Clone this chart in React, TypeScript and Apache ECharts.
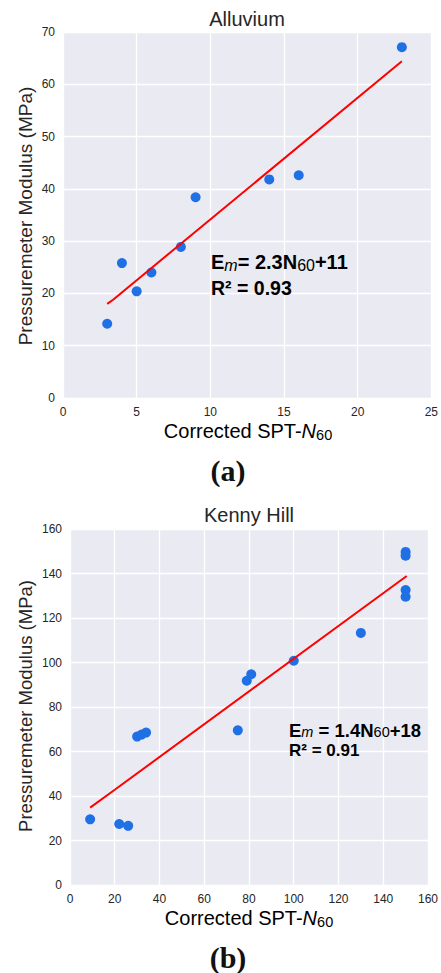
import React, { useEffect, useRef } from "react";
import * as echarts from "echarts";

// Alluvium data
const alluviumN = [3, 4, 5, 6, 8, 9, 14, 16, 23];
const alluviumEm = [14.2, 25.8, 20.4, 24.0, 28.9, 38.4, 41.8, 42.6, 67.1];
const alluviumFitN = [3, 3.4, 23];
const alluviumFitEm = [18.0, 18.8, 64.4];

// Kenny Hill data
const kennyN = [9, 22, 26, 30, 32, 34, 75, 79, 81, 100, 130, 150, 150, 150, 150];
const kennyEm = [29.5, 27.4, 26.6, 66.7, 67.6, 68.5, 69.5, 91.8, 94.7, 100.8, 113.3, 149.7, 148.0, 132.6, 129.6];
const kennyFitN = [9, 20, 150.5];
const kennyFitEm = [34.8, 42.8, 138.9];

const titles = ["Alluvium", "Kenny Hill"];
const yAxisName = "Pressuremeter Modulus (MPa)";

const BG = "#EAEAF2";
const DOT = "#1f6fe5";
const TXT = "#262626";
const FONT = "'Liberation Sans', Arial, sans-serif";

const GRIDS = [
  { left: 63, top: 32, width: 369, height: 366 },
  { left: 70, top: 529, width: 358, height: 356 },
];

const zip = (a: number[], b: number[]) => a.map((v, i) => [v, b[i]]);

export default function App() {
  const ref = useRef<HTMLDivElement>(null);
  useEffect(() => {
    const chart = echarts.init(ref.current!, undefined, { renderer: "svg" });
    const axisCommon = {
      axisLine: { show: false },
      axisTick: { show: false },
      splitLine: { show: true, lineStyle: { color: "#ffffff", width: 1.3, opacity: 1 } },
      axisLabel: { color: TXT, fontSize: 12, fontFamily: FONT, margin: 8 },
      z: 5,
    };
    const xRich = {
      a: { fontSize: 20, fontFamily: FONT, color: TXT, lineHeight: 23, verticalAlign: "middle" },
      i: { fontSize: 20, fontFamily: FONT, fontStyle: "italic", color: TXT, lineHeight: 23, verticalAlign: "middle" },
      s: { fontSize: 14.5, fontFamily: FONT, color: TXT, lineHeight: 14, verticalAlign: "bottom" },
    };
    const eqRich = (fs: number, sub: number, lh: number) => ({
      b: { fontSize: fs, fontWeight: "bold", fontFamily: FONT, color: TXT, lineHeight: lh, verticalAlign: "middle" },
      m: { fontSize: sub, fontStyle: "italic", fontFamily: FONT, color: TXT, lineHeight: sub, verticalAlign: "bottom" },
      s: { fontSize: sub, fontFamily: FONT, color: TXT, lineHeight: sub, verticalAlign: "bottom" },
    });
    const txt = (x: number, y: number, style: any, extra: any = {}) => ({ type: "text", x, y, z: 100, style, ...extra });
    const bgRects = GRIDS.map((g) => ({
      type: "rect", z: -10, silent: true,
      shape: { x: g.left, y: g.top, width: g.width, height: g.height },
      style: { fill: BG, opacity: 1 },
    }));
    const option: any = {
      animation: false,
      grid: GRIDS.map((g) => ({ ...g, show: true, backgroundColor: BG, borderColor: BG, borderWidth: 0 })),
      xAxis: [
        { ...axisCommon, type: "value", gridIndex: 0, min: 0, max: 25, interval: 5 },
        { ...axisCommon, type: "value", gridIndex: 1, min: 0, max: 160, interval: 20 },
      ],
      yAxis: [
        { ...axisCommon, type: "value", gridIndex: 0, min: 0, max: 70, interval: 10 },
        { ...axisCommon, type: "value", gridIndex: 1, min: 0, max: 160, interval: 20 },
      ],
      series: [
        {
          type: "line", xAxisIndex: 0, yAxisIndex: 0, data: zip(alluviumFitN, alluviumFitEm),
          showSymbol: false, lineStyle: { color: "#ff0000", width: 2 }, z: 20,
        },
        {
          type: "scatter", xAxisIndex: 0, yAxisIndex: 0, data: zip(alluviumN, alluviumEm),
          symbolSize: 10, itemStyle: { color: DOT, opacity: 1 }, z: 10,
        },
        {
          type: "line", xAxisIndex: 1, yAxisIndex: 1, data: zip(kennyFitN, kennyFitEm),
          showSymbol: false, lineStyle: { color: "#ff0000", width: 2 }, z: 20,
        },
        {
          type: "scatter", xAxisIndex: 1, yAxisIndex: 1, data: zip(kennyN, kennyEm),
          symbolSize: 10, itemStyle: { color: DOT, opacity: 1 }, z: 10,
        },
      ],
      graphic: [
        ...bgRects,
        txt(247, 19, { text: titles[0], fontSize: 20, fontFamily: FONT, fill: TXT, align: "center", verticalAlign: "middle" }),
        txt(249, 515, { text: titles[1], fontSize: 20, fontFamily: FONT, fill: TXT, align: "center", verticalAlign: "middle" }),
        txt(25, 216, { text: yAxisName, fontSize: 19, fontFamily: FONT, fill: TXT, align: "center", verticalAlign: "middle" }, { rotation: Math.PI / 2 }),
        txt(25, 706, { text: yAxisName, fontSize: 18.5, fontFamily: FONT, fill: TXT, align: "center", verticalAlign: "middle" }, { rotation: Math.PI / 2 }),
        txt(248, 431, { text: "{a|Corrected SPT-}{i|N}{s|60}", rich: xRich, align: "center", verticalAlign: "middle" }),
        txt(249, 918, { text: "{a|Corrected SPT-}{i|N}{s|60}", rich: xRich, align: "center", verticalAlign: "middle" }),
        txt(211, 262, { text: "{b|E}{m|m}{b|= 2.3N}{s|60}{b|+11}", rich: eqRich(20, 16, 23), align: "left", verticalAlign: "middle" }),
        txt(211, 288, { text: "{b|R² = 0.93}", rich: eqRich(19.5, 15, 22), align: "left", verticalAlign: "middle" }),
        txt(289, 730, { text: "{b|E}{m|m}{b| = 1.4N}{s|60}{b|+18}", rich: eqRich(18.5, 14.5, 19), align: "left", verticalAlign: "middle" }),
        txt(289, 750, { text: "{b|R² = 0.91}", rich: eqRich(17, 13, 18), align: "left", verticalAlign: "middle" }),
        txt(228, 470, { text: "(a)", fontSize: 30, fontWeight: "bold", fontFamily: "'Liberation Serif', serif", fill: "#111", align: "center", verticalAlign: "middle" }),
        txt(228, 957, { text: "(b)", fontSize: 30, fontWeight: "bold", fontFamily: "'Liberation Serif', serif", fill: "#111", align: "center", verticalAlign: "middle" }),
      ],
    };
    chart.setOption(option);
    return () => chart.dispose();
  }, []);
  return <div ref={ref} style={{ position: "absolute", left: 0, top: 0, width: 441, height: 973, background: "#ffffff" }} />;
}
